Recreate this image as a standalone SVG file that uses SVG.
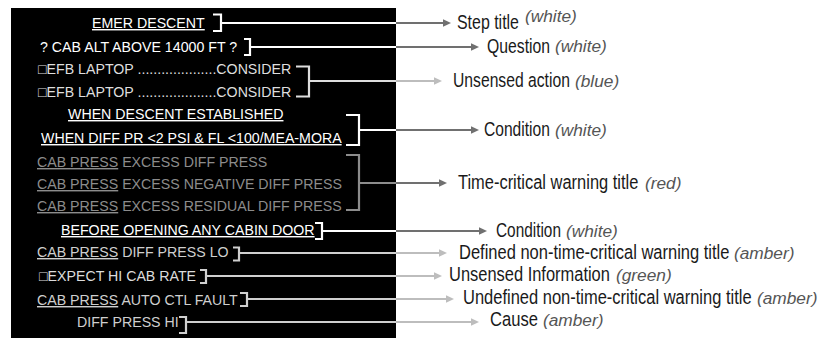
<svg xmlns="http://www.w3.org/2000/svg" width="821" height="338" viewBox="0 0 821 338">
<style>
.t{font-family:"Liberation Sans",Arial,sans-serif;font-size:14.2px}
.w{fill:#ffffff}
.r{fill:#8c8c8c}
.a{fill:#cfcfcf}
.b{fill:#dedede}
.g{fill:#dcdcdc}
.u{text-decoration:underline}
.lab{font-family:"Liberation Sans",Arial,sans-serif;font-size:19.5px;fill:#1a1a1a}
.it{font-family:"Liberation Sans",Arial,sans-serif;font-size:17.3px;font-style:italic;fill:#555}
.br{fill:none;stroke-width:2.2}
.cw{stroke:#ffffff}.cr{stroke:#8c8c8c}.ca{stroke:#cfcfcf}.cb{stroke:#dedede}
.ln{fill:none;stroke-width:2.2}
.dk{stroke:#707070}.lt{stroke:#bdbdbd}
</style>
<defs>
<marker id="md" markerUnits="userSpaceOnUse" markerWidth="9" markerHeight="9" refX="1" refY="4" orient="auto"><path d="M0,0.3 L8,4 L0,7.7 z" fill="#707070"/></marker>
<marker id="ml" markerUnits="userSpaceOnUse" markerWidth="9" markerHeight="9" refX="1" refY="4" orient="auto"><path d="M0,0.3 L8,4 L0,7.7 z" fill="#bdbdbd"/></marker>
</defs>
<rect id="panel" x="11" y="8" width="385" height="330" fill="#000"/>

<g id="n-step"><text class="t w" x="92" y="28"><tspan class="u">EMER DESCENT</tspan></text><path class="br cw" d="M213,14.5H221V31H213"/></g>
<g id="n-question"><text class="t w" x="40" y="52">? CAB ALT ABOVE 14000 FT ?</text><path class="br cw" d="M244,39H250V55H244"/></g>
<g id="n-efb"><text class="t b" x="38" y="74">□EFB LAPTOP ....................CONSIDER</text><text class="t b" x="38" y="97">□EFB LAPTOP ....................CONSIDER</text><path class="br cb" d="M296,66.5H309V96.5H296"/></g>
<g id="n-cond1"><text class="t w" x="68" y="119"><tspan class="u">WHEN DESCENT ESTABLISHED</tspan></text><text class="t w" x="41" y="143"><tspan class="u">WHEN DIFF PR &lt;2 PSI &amp; FL &lt;100/MEA-MORA</tspan></text><path class="br cw" d="M346,115H359V145H346"/></g>
<g id="n-red"><text class="t r" x="37" y="167"><tspan class="u">CAB PRESS</tspan> EXCESS DIFF PRESS</text><text class="t r" x="37" y="189"><tspan class="u">CAB PRESS</tspan> EXCESS NEGATIVE DIFF PRESS</text><text class="t r" x="37" y="211"><tspan class="u">CAB PRESS</tspan> EXCESS RESIDUAL DIFF PRESS</text><path class="br cr" d="M346,155H359V210H346"/></g>
<g id="n-cond2"><text class="t w" x="61" y="235"><tspan class="u">BEFORE OPENING ANY CABIN DOOR</tspan></text><path class="br cw" d="M315,223H322V239H315"/></g>
<g id="n-lo"><text class="t a" x="37" y="257"><tspan class="u">CAB PRESS</tspan> DIFF PRESS LO</text><path class="br ca" d="M233,247.5H239V260.5H233"/></g>
<g id="n-expect"><text class="t g" x="39" y="281">□EXPECT HI CAB RATE</text><path class="br ca" d="M200,270H206V283H200"/></g>
<g id="n-auto"><text class="t a" x="37" y="305"><tspan class="u">CAB PRESS</tspan> AUTO CTL FAULT</text><path class="br ca" d="M240,293H247V306H240"/></g>
<g id="n-hi"><text class="t a" x="77" y="327">DIFF PRESS HI</text><path class="br ca" d="M179,317H186V333H179"/></g>

<g id="connectors">
<path class="ln cw" d="M221,23H396"/><path class="ln dk" d="M396,23H444" marker-end="url(#md)"/>
<path class="ln cw" d="M250,47H396"/><path class="ln dk" d="M396,47H472" marker-end="url(#md)"/>
<path class="ln cb" d="M309,81H396"/><path class="ln lt" d="M396,81H435" marker-end="url(#ml)"/>
<path class="ln cw" d="M359,130H396"/><path class="ln dk" d="M396,130H472" marker-end="url(#md)"/>
<path class="ln cr" d="M359,183H396"/><path class="ln dk" d="M396,183H440" marker-end="url(#md)"/>
<path class="ln cw" d="M322,231H396"/><path class="ln dk" d="M396,231H480" marker-end="url(#md)"/>
<path class="ln ca" d="M239,253H396"/><path class="ln lt" d="M396,253H440" marker-end="url(#ml)"/>
<path class="ln ca" d="M206,276H396"/><path class="ln lt" d="M396,276H435" marker-end="url(#ml)"/>
<path class="ln ca" d="M247,299H396"/><path class="ln lt" d="M396,299H447" marker-end="url(#ml)"/>
<path class="ln ca" d="M186,322H396"/><path class="ln lt" d="M396,322H472" marker-end="url(#ml)"/>
</g>

<g id="l-step"><text class="lab" transform="translate(457,29) scale(0.817,1)">Step title</text><text class="it" x="525" y="22">(white)</text></g>
<g id="l-question"><text class="lab" transform="translate(487,53) scale(0.808,1)">Question</text><text class="it" x="555" y="52">(white)</text></g>
<g id="l-unsensed-action"><text class="lab" transform="translate(453,87) scale(0.806,1)">Unsensed action</text><text class="it" x="575" y="87">(blue)</text></g>
<g id="l-cond1"><text class="lab" transform="translate(484,136) scale(0.8,1)">Condition</text><text class="it" x="555" y="136">(white)</text></g>
<g id="l-red"><text class="lab" transform="translate(458,189) scale(0.844,1)">Time-critical warning title</text><text class="it" x="645" y="189">(red)</text></g>
<g id="l-cond2"><text class="lab" transform="translate(496,237) scale(0.789,1)">Condition</text><text class="it" x="566" y="237">(white)</text></g>
<g id="l-defined"><text class="lab" transform="translate(459,259) scale(0.847,1)">Defined non-time-critical warning title</text><text class="it" x="734" y="259">(amber)</text></g>
<g id="l-unsensed-info"><text class="lab" transform="translate(449,281) scale(0.844,1)">Unsensed Information</text><text class="it" x="616" y="281">(green)</text></g>
<g id="l-undefined"><text class="lab" transform="translate(463,304) scale(0.846,1)">Undefined non-time-critical warning title</text><text class="it" x="757" y="304">(amber)</text></g>
<g id="l-cause"><text class="lab" transform="translate(490,326) scale(0.851,1)">Cause</text><text class="it" x="543" y="326">(amber)</text></g>
</svg>
